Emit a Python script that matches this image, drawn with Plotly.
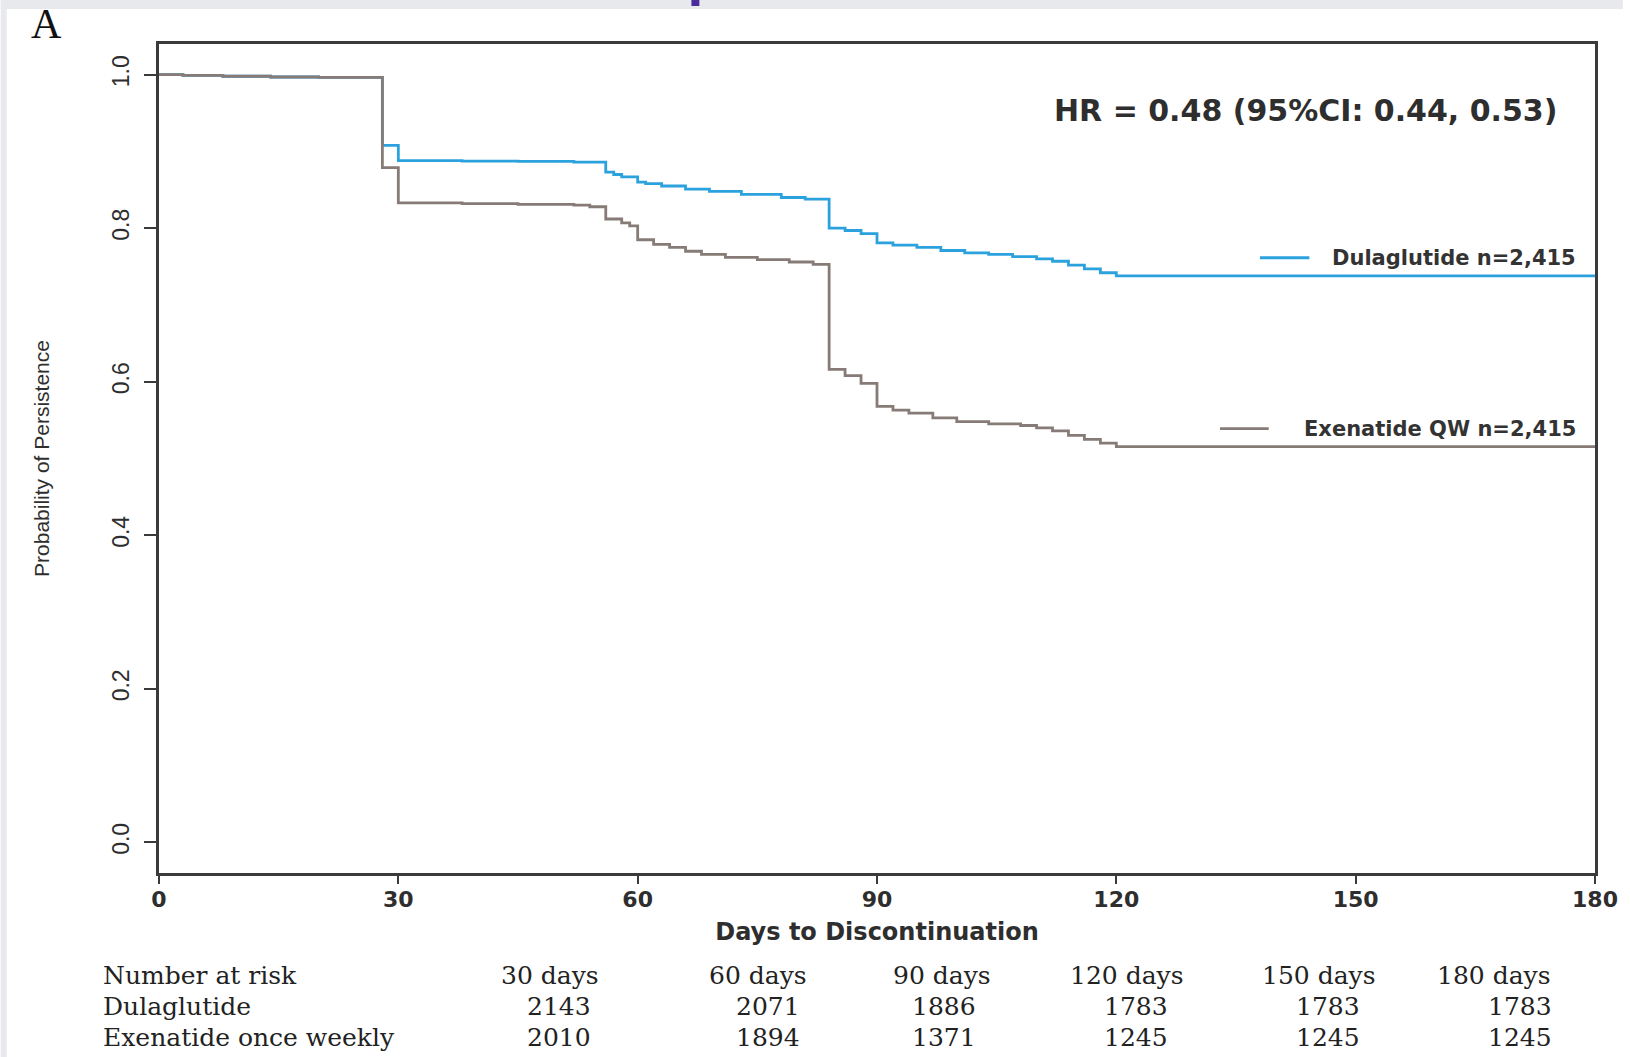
import plotly.graph_objects as go

# Kaplan-Meier persistence curves (day of change, survival probability after it)
dula_days = [0, 3, 8, 14, 20, 28, 30, 38, 45, 52, 56, 57, 58, 60, 61, 63, 66, 69, 73, 78, 81,
             84, 86, 88, 90, 92, 95, 98, 101, 104, 107, 110, 112, 114, 116, 118, 120, 180]
dula_surv = [1.000, 0.999, 0.998, 0.997, 0.9965, 0.908, 0.888, 0.8875, 0.887, 0.886, 0.873, 0.870,
             0.867, 0.860, 0.858, 0.855, 0.851, 0.848, 0.844, 0.840, 0.838,
             0.800, 0.797, 0.793, 0.781, 0.778, 0.775, 0.771, 0.768, 0.766, 0.763, 0.760,
             0.757, 0.752, 0.747, 0.742, 0.738, 0.738]

exen_days = [0, 3, 8, 14, 20, 28, 30, 38, 45, 52, 54, 56, 58, 59, 60, 62, 64, 66, 68, 71, 75, 79, 82,
             84, 86, 88, 90, 92, 94, 97, 100, 104, 108, 110, 112, 114, 116, 118, 120, 180]
exen_surv = [1.000, 0.999, 0.998, 0.997, 0.9965, 0.879, 0.833, 0.832, 0.831, 0.830, 0.828, 0.812,
             0.807, 0.803, 0.785, 0.779, 0.775, 0.770, 0.766, 0.762, 0.759, 0.756, 0.753,
             0.616, 0.608, 0.598, 0.568, 0.563, 0.559, 0.553, 0.548, 0.545, 0.543, 0.540,
             0.536, 0.530, 0.525, 0.520, 0.5155, 0.5155]

series_names = ["Dulaglutide n=2,415", "Exenatide QW n=2,415"]
hr_text = "HR = 0.48 (95%CI: 0.44, 0.53)"

# Number-at-risk table
risk_header = ["30 days", "60 days", "90 days", "120 days", "150 days", "180 days"]
risk_rows = ["Dulaglutide", "Exenatide once weekly"]
dula_risk = [2143, 2071, 1886, 1783, 1783, 1783]
exen_risk = [2010, 1894, 1371, 1245, 1245, 1245]

x_ticks = [0, 30, 60, 90, 120, 150, 180]
y_ticks = [0.0, 0.2, 0.4, 0.6, 0.8, 1.0]

BLUE = "#2ba2de"
GREY = "#867b76"
FRAME = "#3a3a3a"
INK = "#2e2e2e"

W, H = 1630, 1057
L, R, T, B = 159, 1602, 44, 873


def px(x):
    return (x - L) / (R - L)


def py(y):
    return (B - y) / (B - T)


fig = go.Figure()
fig.add_trace(go.Scatter(x=dula_days, y=dula_surv, mode="lines", line_shape="hv",
                         line=dict(color=BLUE, width=2.8), name=series_names[0]))
fig.add_trace(go.Scatter(x=exen_days, y=exen_surv, mode="lines", line_shape="hv",
                         line=dict(color=GREY, width=2.8), name=series_names[1]))

sans = "DejaVu Sans"
arial = "Liberation Sans"
serif = "DejaVu Serif"

annotations = []
shapes = []

# hazard ratio
annotations.append(dict(x=143.75, y=0.954, xref="x", yref="y", text=hr_text, showarrow=False,
                        xanchor="center", yanchor="middle",
                        font=dict(family=sans, size=30, color=INK, weight="bold")))

# in-plot legend: key line + right-aligned label
legend_pos = [(138.0, 144.2, 0.7615), (133.0, 139.1, 0.539)]
for (x0, x1, yk), name, col in zip(legend_pos, series_names, [BLUE, GREY]):
    shapes.append(dict(type="line", xref="x", yref="y", x0=x0, x1=x1, y0=yk, y1=yk,
                       line=dict(color=col, width=2.8)))
    annotations.append(dict(x=177.9, y=yk, xref="x", yref="y", text=name, showarrow=False,
                            xanchor="right", yanchor="middle",
                            font=dict(family=sans, size=21, color="#333333", weight="bold")))

# panel letter
annotations.append(dict(x=px(46), y=py(24), xref="paper", yref="paper", text="A",
                        showarrow=False, xanchor="center", yanchor="middle",
                        font=dict(family="Liberation Serif", size=42, color="#111111")))

# risk table
row_y = [975, 1006, 1037]
header_x = [552, 761, 946, 1132, 1325, 1501]
number_x = [561, 771, 948, 1141, 1334, 1527]
table_font = dict(family=serif, size=25, color="#222222")
annotations.append(dict(x=px(101), y=py(row_y[0]), xref="paper", yref="paper",
                        text="Number at risk", showarrow=False, xanchor="left",
                        yanchor="middle", font=table_font))
for lbl, yy in zip(risk_rows, row_y[1:]):
    annotations.append(dict(x=px(101), y=py(yy), xref="paper", yref="paper", text=lbl,
                            showarrow=False, xanchor="left", yanchor="middle", font=table_font))
for hx, lbl in zip(header_x, risk_header):
    annotations.append(dict(x=px(hx), y=py(row_y[0]), xref="paper", yref="paper", text=lbl,
                            showarrow=False, xanchor="center", yanchor="middle", font=table_font))
for vals, yy in zip([dula_risk, exen_risk], row_y[1:]):
    for nx, v in zip(number_x, vals):
        annotations.append(dict(x=px(nx), y=py(yy), xref="paper", yref="paper", text=str(v),
                                showarrow=False, xanchor="center", yanchor="middle",
                                font=table_font))

# page decoration: light header band, left strip and accent mark
shapes.append(dict(type="rect", xref="paper", yref="paper", x0=px(0), x1=px(W),
                   y0=py(9), y1=py(0), fillcolor="#e8e9ec", line=dict(width=0), layer="below"))
shapes.append(dict(type="rect", xref="paper", yref="paper", x0=px(0), x1=px(6),
                   y0=py(H), y1=py(0), fillcolor="#e8e9ec", line=dict(width=0), layer="below"))
shapes.append(dict(type="rect", xref="paper", yref="paper", x0=px(694), x1=px(702),
                   y0=py(6), y1=py(0), fillcolor="#4a2d9c", line=dict(width=0)))

fig.update_layout(
    width=W, height=H,
    margin=dict(l=L, r=W - R, t=T, b=H - B, pad=0),
    paper_bgcolor="white", plot_bgcolor="white",
    showlegend=False,
    annotations=annotations,
    shapes=shapes,
    xaxis=dict(range=[0, 180], tickvals=x_ticks, ticktext=[str(v) for v in x_ticks],
               showgrid=False, zeroline=False,
               showline=True, mirror=True, linecolor=FRAME, linewidth=2.5,
               ticks="outside", ticklen=8, tickwidth=2, tickcolor=FRAME,
               ticklabelstandoff=-3,
               tickfont=dict(family=sans, size=22, color=INK, weight="bold"),
               title=dict(text="Days to Discontinuation", standoff=13,
                          font=dict(family=sans, size=24, color=INK, weight="bold"))),
    yaxis=dict(range=[-0.04, 1.04], tickvals=y_ticks, ticktext=["%.1f" % v for v in y_ticks],
               tickangle=-90, showgrid=False, zeroline=False,
               showline=True, mirror=True, linecolor=FRAME, linewidth=2.5,
               ticks="outside", ticklen=12, tickwidth=2, tickcolor=FRAME,
               ticklabelstandoff=6,
               tickfont=dict(family=arial, size=23, color=INK),
               title=dict(text="Probability of Persistence", standoff=53,
                          font=dict(family=arial, size=21, color=INK))),
)

fig.write_html("out.html")
